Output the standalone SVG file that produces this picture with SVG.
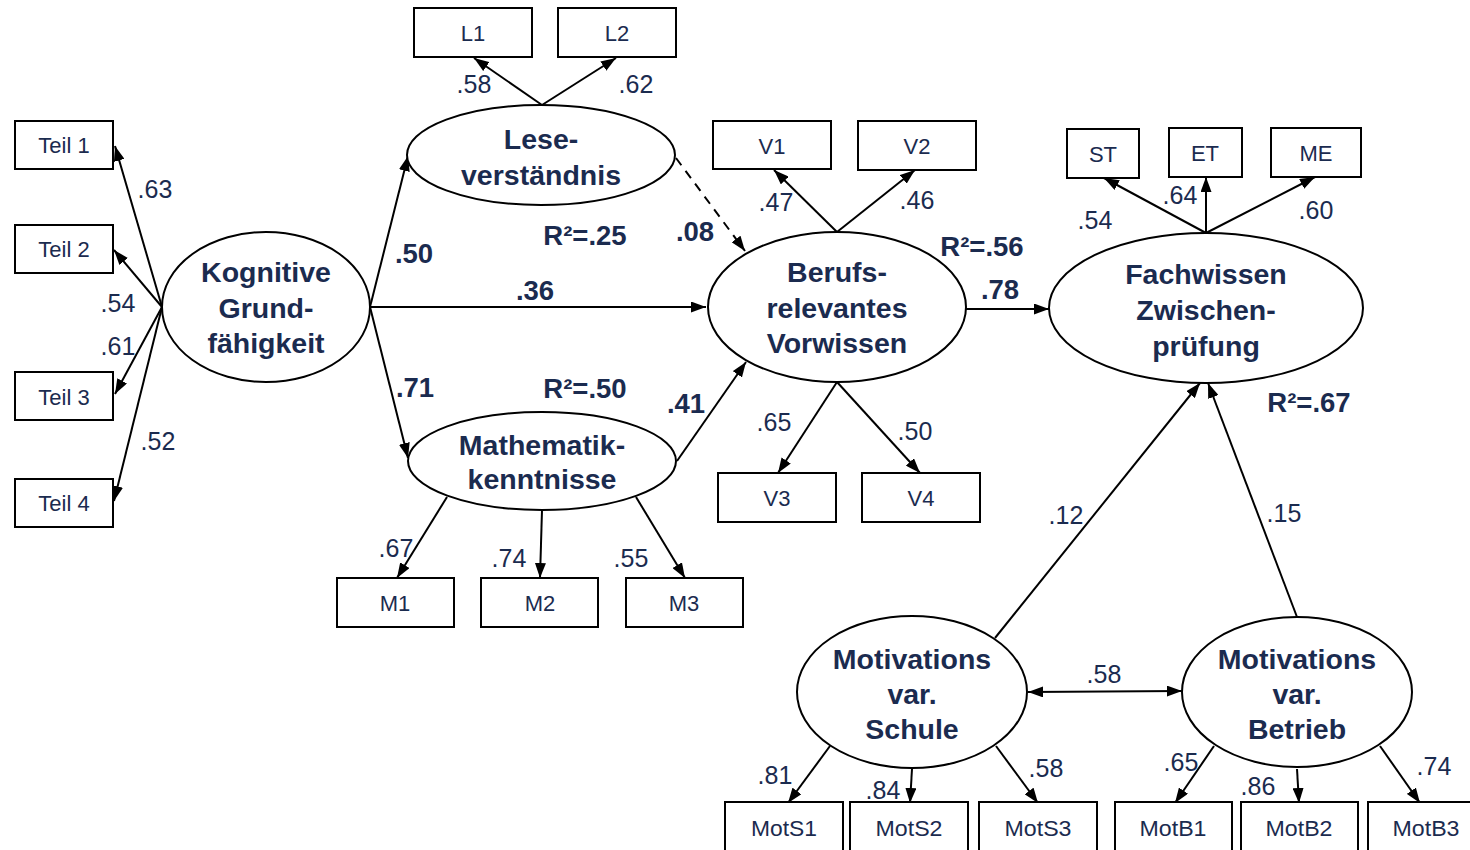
<svg xmlns="http://www.w3.org/2000/svg" width="1470" height="850" viewBox="0 0 1470 850">
  <style>
    .box { fill: #ffffff; stroke: #000000; stroke-width: 2; }
    .lat { fill: #ffffff; stroke: #000000; stroke-width: 2; }
    .edge { fill: none; stroke: #000000; stroke-width: 2; }
    .dash { stroke-dasharray: 9 7; }
    .obs { font-family: "Liberation Sans", Arial, sans-serif; font-size: 22px; fill: #1b2b4f; text-anchor: middle; }
    .name { font-family: "Liberation Sans", Arial, sans-serif; font-size: 28.5px; font-weight: bold; fill: #1b2b4f; text-anchor: middle; }
    .ld { font-family: "Liberation Sans", Arial, sans-serif; font-size: 25px; fill: #1b2b4f; text-anchor: middle; }
    .coef { font-family: "Liberation Sans", Arial, sans-serif; font-size: 27.5px; font-weight: bold; fill: #1b2b4f; text-anchor: middle; }
  </style>
  <defs>
    <marker id="arr" viewBox="0 0 15 11" refX="15" refY="5.5" markerWidth="15" markerHeight="11" markerUnits="userSpaceOnUse" orient="auto-start-reverse">
      <path d="M0,0 L15,5.5 L0,11 z" fill="#000000"/>
    </marker>
  </defs>

  <!-- paths and loadings -->
  <g id="connectors">
    <!-- Kognitive Grundfähigkeit indicators -->
    <line class="edge" x1="162" y1="307" x2="115" y2="146" marker-end="url(#arr)"/>
    <line class="edge" x1="162" y1="307" x2="114" y2="250" marker-end="url(#arr)"/>
    <line class="edge" x1="162" y1="307" x2="115" y2="394" marker-end="url(#arr)"/>
    <line class="edge" x1="162" y1="307" x2="114" y2="501" marker-end="url(#arr)"/>
    <!-- structural paths from Kognitive Grundfähigkeit -->
    <line class="edge" x1="370" y1="307" x2="408" y2="156" marker-end="url(#arr)"/>
    <line class="edge" x1="370" y1="307" x2="706" y2="307" marker-end="url(#arr)"/>
    <line class="edge" x1="370" y1="307" x2="408" y2="458" marker-end="url(#arr)"/>
    <!-- Leseverständnis indicators -->
    <line class="edge" x1="542" y1="105" x2="474" y2="58" marker-end="url(#arr)"/>
    <line class="edge" x1="542" y1="105" x2="616" y2="58" marker-end="url(#arr)"/>
    <!-- Leseverständnis -> Vorwissen (n.s.) -->
    <line class="edge dash" x1="676" y1="158" x2="745" y2="251" marker-end="url(#arr)"/>
    <!-- Mathematikkenntnisse indicators -->
    <line class="edge" x1="447" y1="497" x2="397" y2="578" marker-end="url(#arr)"/>
    <line class="edge" x1="542" y1="510" x2="540" y2="578" marker-end="url(#arr)"/>
    <line class="edge" x1="636" y1="497" x2="685" y2="578" marker-end="url(#arr)"/>
    <!-- Mathematikkenntnisse -> Vorwissen -->
    <line class="edge" x1="677" y1="461" x2="746" y2="362" marker-end="url(#arr)"/>
    <!-- Vorwissen indicators -->
    <line class="edge" x1="837" y1="232" x2="774" y2="170" marker-end="url(#arr)"/>
    <line class="edge" x1="837" y1="232" x2="915" y2="170" marker-end="url(#arr)"/>
    <line class="edge" x1="837" y1="382" x2="778" y2="473" marker-end="url(#arr)"/>
    <line class="edge" x1="837" y1="382" x2="920" y2="473" marker-end="url(#arr)"/>
    <!-- Vorwissen -> Fachwissen -->
    <line class="edge" x1="961" y1="309" x2="1049" y2="309" marker-end="url(#arr)"/>
    <!-- Fachwissen indicators -->
    <line class="edge" x1="1206" y1="233" x2="1104" y2="178" marker-end="url(#arr)"/>
    <line class="edge" x1="1206" y1="233" x2="1206" y2="177" marker-end="url(#arr)"/>
    <line class="edge" x1="1206" y1="233" x2="1315" y2="177" marker-end="url(#arr)"/>
    <!-- motivation -> Fachwissen -->
    <line class="edge" x1="995" y1="638" x2="1200" y2="383" marker-end="url(#arr)"/>
    <line class="edge" x1="1297" y1="617" x2="1208" y2="383" marker-end="url(#arr)"/>
    <!-- correlation between motivation factors -->
    <line class="edge" x1="1028" y1="692" x2="1182" y2="691" marker-start="url(#arr)" marker-end="url(#arr)"/>
    <!-- motivation indicators -->
    <line class="edge" x1="830" y1="746" x2="788" y2="803" marker-end="url(#arr)"/>
    <line class="edge" x1="912" y1="769" x2="910" y2="803" marker-end="url(#arr)"/>
    <line class="edge" x1="996" y1="746" x2="1038" y2="803" marker-end="url(#arr)"/>
    <line class="edge" x1="1214" y1="746" x2="1175" y2="803" marker-end="url(#arr)"/>
    <line class="edge" x1="1297" y1="769" x2="1299" y2="803" marker-end="url(#arr)"/>
    <line class="edge" x1="1380" y1="746" x2="1420" y2="803" marker-end="url(#arr)"/>

    <!-- loadings -->
    <text class="ld" x="155" y="198">.63</text>
    <text class="ld" x="118" y="312">.54</text>
    <text class="ld" x="118" y="355">.61</text>
    <text class="ld" x="158" y="450">.52</text>
    <text class="ld" x="474" y="93">.58</text>
    <text class="ld" x="636" y="93">.62</text>
    <text class="ld" x="396" y="557">.67</text>
    <text class="ld" x="509" y="567">.74</text>
    <text class="ld" x="631" y="567">.55</text>
    <text class="ld" x="776" y="211">.47</text>
    <text class="ld" x="917" y="209">.46</text>
    <text class="ld" x="774" y="431">.65</text>
    <text class="ld" x="915" y="440">.50</text>
    <text class="ld" x="1095" y="229">.54</text>
    <text class="ld" x="1180" y="204">.64</text>
    <text class="ld" x="1316" y="219">.60</text>
    <text class="ld" x="1066" y="524">.12</text>
    <text class="ld" x="1284" y="522">.15</text>
    <text class="ld" x="1104" y="683">.58</text>
    <text class="ld" x="775" y="784">.81</text>
    <text class="ld" x="883" y="799">.84</text>
    <text class="ld" x="1046" y="777">.58</text>
    <text class="ld" x="1181" y="771">.65</text>
    <text class="ld" x="1258" y="795">.86</text>
    <text class="ld" x="1434" y="775">.74</text>

    <!-- structural coefficients and explained variance -->
    <text class="coef" x="414" y="263">.50</text>
    <text class="coef" x="535" y="300">.36</text>
    <text class="coef" x="415" y="397">.71</text>
    <text class="coef" x="695" y="241">.08</text>
    <text class="coef" x="686" y="413">.41</text>
    <text class="coef" x="585" y="245">R²=.25</text>
    <text class="coef" x="585" y="398">R²=.50</text>
    <text class="coef" x="982" y="256">R²=.56</text>
    <text class="coef" x="1000" y="299">.78</text>
    <text class="coef" x="1309" y="412">R²=.67</text>
  </g>

  <!-- observed indicators -->
  <g id="teil1"><rect class="box" x="15" y="121" width="98" height="48"/><text class="obs" x="64" y="153">Teil 1</text></g>
  <g id="teil2"><rect class="box" x="15" y="225" width="98" height="48"/><text class="obs" x="64" y="257">Teil 2</text></g>
  <g id="teil3"><rect class="box" x="15" y="372" width="98" height="48"/><text class="obs" x="64" y="405">Teil 3</text></g>
  <g id="teil4"><rect class="box" x="15" y="479" width="98" height="48"/><text class="obs" x="64" y="511">Teil 4</text></g>

  <g id="l1"><rect class="box" x="414" y="8" width="118" height="49"/><text class="obs" x="473" y="41">L1</text></g>
  <g id="l2"><rect class="box" x="558" y="8" width="118" height="49"/><text class="obs" x="617" y="41">L2</text></g>

  <g id="m1"><rect class="box" x="337" y="578" width="117" height="49"/><text class="obs" x="395" y="611">M1</text></g>
  <g id="m2"><rect class="box" x="481" y="578" width="117" height="49"/><text class="obs" x="540" y="611">M2</text></g>
  <g id="m3"><rect class="box" x="626" y="578" width="117" height="49"/><text class="obs" x="684" y="611">M3</text></g>

  <g id="v1"><rect class="box" x="713" y="121" width="118" height="48"/><text class="obs" x="772" y="154">V1</text></g>
  <g id="v2"><rect class="box" x="858" y="121" width="118" height="49"/><text class="obs" x="917" y="154">V2</text></g>
  <g id="v3"><rect class="box" x="718" y="473" width="118" height="49"/><text class="obs" x="777" y="506">V3</text></g>
  <g id="v4"><rect class="box" x="862" y="473" width="118" height="49"/><text class="obs" x="921" y="506">V4</text></g>

  <g id="st"><rect class="box" x="1067" y="129" width="72" height="49"/><text class="obs" x="1103" y="162">ST</text></g>
  <g id="et"><rect class="box" x="1169" y="128" width="73" height="49"/><text class="obs" x="1205" y="161">ET</text></g>
  <g id="me"><rect class="box" x="1271" y="128" width="90" height="49"/><text class="obs" x="1316" y="161">ME</text></g>

  <g id="mots1"><rect class="box" x="725" y="802" width="118" height="60"/><text class="obs" x="784" y="836" font-size="23" textLength="66" lengthAdjust="spacingAndGlyphs">MotS1</text></g>
  <g id="mots2"><rect class="box" x="850" y="802" width="118" height="60"/><text class="obs" x="909" y="836" font-size="23" textLength="67" lengthAdjust="spacingAndGlyphs">MotS2</text></g>
  <g id="mots3"><rect class="box" x="979" y="802" width="118" height="60"/><text class="obs" x="1038" y="836" font-size="23" textLength="67" lengthAdjust="spacingAndGlyphs">MotS3</text></g>
  <g id="motb1"><rect class="box" x="1115" y="802" width="117" height="60"/><text class="obs" x="1173" y="836" font-size="23" textLength="67" lengthAdjust="spacingAndGlyphs">MotB1</text></g>
  <g id="motb2"><rect class="box" x="1241" y="802" width="117" height="60"/><text class="obs" x="1299" y="836" font-size="23" textLength="67" lengthAdjust="spacingAndGlyphs">MotB2</text></g>
  <g id="motb3"><rect class="box" x="1368" y="802" width="117" height="60"/><text class="obs" x="1426" y="836" font-size="23" textLength="67" lengthAdjust="spacingAndGlyphs">MotB3</text></g>

  <!-- latent factors -->
  <g id="kognitive">
    <ellipse class="lat" cx="266" cy="307" rx="104" ry="75"/>
    <text class="name" x="266" y="282">Kognitive</text>
    <text class="name" x="266" y="318">Grund-</text>
    <text class="name" x="266" y="353">fähigkeit</text>
  </g>
  <g id="lese">
    <ellipse class="lat" cx="541" cy="155" rx="134" ry="50"/>
    <text class="name" x="541" y="149">Lese-</text>
    <text class="name" x="541" y="185">verständnis</text>
  </g>
  <g id="mathe">
    <ellipse class="lat" cx="542" cy="461" rx="134" ry="49"/>
    <text class="name" x="542" y="455">Mathematik-</text>
    <text class="name" x="542" y="489">kenntnisse</text>
  </g>
  <g id="vorwissen">
    <ellipse class="lat" cx="837" cy="307" rx="129" ry="75"/>
    <text class="name" x="837" y="282">Berufs-</text>
    <text class="name" x="837" y="318">relevantes</text>
    <text class="name" x="837" y="353">Vorwissen</text>
  </g>
  <g id="fachwissen">
    <ellipse class="lat" cx="1206" cy="308" rx="157" ry="75"/>
    <text class="name" x="1206" y="284">Fachwissen</text>
    <text class="name" x="1206" y="320">Zwischen-</text>
    <text class="name" x="1206" y="356">prüfung</text>
  </g>
  <g id="mot-schule">
    <ellipse class="lat" cx="912" cy="692" rx="115" ry="76"/>
    <text class="name" x="912" y="669">Motivations</text>
    <text class="name" x="912" y="704">var.</text>
    <text class="name" x="912" y="739">Schule</text>
  </g>
  <g id="mot-betrieb">
    <ellipse class="lat" cx="1297" cy="692" rx="115" ry="75"/>
    <text class="name" x="1297" y="669">Motivations</text>
    <text class="name" x="1297" y="704">var.</text>
    <text class="name" x="1297" y="739">Betrieb</text>
  </g>
</svg>
